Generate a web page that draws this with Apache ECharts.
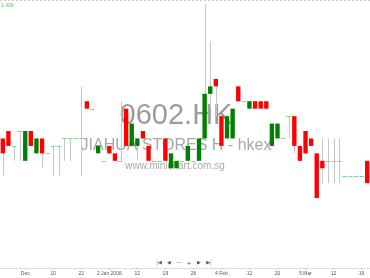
<!DOCTYPE html>
<html>
<head>
<meta charset="utf-8">
<script src="https://cdn.jsdelivr.net/npm/echarts@6/dist/echarts.min.js"></script>
<style>html,body{margin:0;padding:0;background:#fff;}#c{width:370px;height:278px;}</style>
</head>
<body>
<div id="c"></div>
<script>
// tick labels shown on the category axis (one label every 5 sessions)
const tickIndex = [4, 9, 14, 19, 24, 29, 34, 39, 44, 49, 54, 59, 64];
const tickText  = ['Dec', '10', '22', '2 Jan 2006', '12', '19', '26', '4 Feb', '12', '20', '5 Mar', '12', '19'];

// daily prices (HKD), red = close above open, green = close below open, dash = unchanged
const opens  = [0.51,0.52,0.52,0.54,0.54,0.52,0.53,0.51,0.51,0.52,0.52,0.53,0.53,0.53,0.53,0.57,0.57,0.52,0.50,0.51,0.50,0.50,0.52,0.55,0.53,0.53,0.50,0.50,0.50,0.50,0.51,0.50,0.50,0.52,0.50,0.53,0.59,0.60,0.60,0.52,0.56,0.57,0.58,0.58,0.58,0.57,0.57,0.57,0.55,0.55,0.53,0.56,0.52,0.50,0.51,0.52,0.45,0.49,0.50,0.50,0.50,0.48,0.48,0.48,0.48,0.47];
const closes = [0.53,0.54,0.52,0.54,0.50,0.54,0.51,0.53,0.51,0.52,0.52,0.53,0.53,0.53,0.53,0.58,0.57,0.51,0.50,0.52,0.51,0.50,0.57,0.52,0.52,0.54,0.52,0.50,0.50,0.53,0.49,0.49,0.50,0.50,0.50,0.50,0.53,0.59,0.61,0.56,0.53,0.53,0.60,0.58,0.57,0.58,0.58,0.58,0.52,0.53,0.53,0.56,0.56,0.52,0.54,0.53,0.51,0.50,0.50,0.50,0.50,0.48,0.48,0.48,0.48,0.50];
const lows   = [0.48,0.52,0.50,0.50,0.50,0.52,0.51,0.49,0.51,0.48,0.48,0.50,0.50,0.53,0.48,0.57,0.57,0.51,0.50,0.51,0.50,0.50,0.52,0.52,0.50,0.53,0.50,0.50,0.50,0.50,0.49,0.49,0.50,0.50,0.50,0.50,0.53,0.57,0.56,0.52,0.53,0.53,0.58,0.58,0.57,0.57,0.57,0.57,0.52,0.53,0.53,0.53,0.51,0.50,0.51,0.52,0.45,0.47,0.47,0.47,0.47,0.48,0.48,0.48,0.48,0.47];
const highs  = [0.53,0.54,0.52,0.54,0.54,0.54,0.53,0.53,0.51,0.52,0.52,0.53,0.53,0.53,0.60,0.58,0.57,0.52,0.50,0.52,0.51,0.58,0.57,0.55,0.53,0.54,0.52,0.50,0.50,0.53,0.51,0.50,0.50,0.52,0.50,0.53,0.71,0.66,0.61,0.56,0.56,0.57,0.60,0.58,0.58,0.58,0.58,0.58,0.55,0.55,0.53,0.56,0.56,0.52,0.54,0.53,0.51,0.53,0.53,0.53,0.53,0.48,0.48,0.48,0.48,0.50];

const categories = opens.map((_, i) => {
  const k = tickIndex.indexOf(i);
  return k >= 0 ? tickText[k] : '';
});
const isTick = (i) => tickIndex.indexOf(i) >= 0;

const candleData = opens.map((o, i) => [i, o, closes[i], lows[i], highs[i]]);

function renderItem(params, api) {
  const i = api.value(0), o = api.value(1), c = api.value(2), l = api.value(3), h = api.value(4);
  const pO = api.coord([i, o]), pC = api.coord([i, c]), pL = api.coord([i, l]), pH = api.coord([i, h]);
  const w = api.size([1, 0])[0] * 0.78;
  const x = pO[0];
  const xl = Math.round(x) + 0.5;
  const children = [];
  if (h !== l) {
    children.push({type: 'line', shape: {x1: xl, y1: pH[1], x2: xl, y2: pL[1]},
      style: {stroke: '#c6c6c6', lineWidth: 1}});
  }
  if (o === c) {
    const yy = Math.round(pO[1]) + 0.5;
    children.push({type: 'line', shape: {x1: x - w / 2, y1: yy, x2: x + w / 2, y2: yy},
      style: {stroke: '#8fcf8f', lineWidth: 1}});
  } else {
    children.push({type: 'rect', shape: {x: x - w / 2, y: Math.min(pO[1], pC[1]), width: w, height: Math.abs(pO[1] - pC[1])},
      style: {fill: c > o ? '#ff0000' : '#008000'}});
  }
  return {type: 'group', children};
}

const chart = echarts.init(document.getElementById('c'), null, {renderer: 'canvas'});
chart.setOption({
  animation: false,
  backgroundColor: '#ffffff',
  grid: {left: -1.23, right: -2.37, top: 0, bottom: 10},
  xAxis: {
    type: 'category',
    data: categories,
    boundaryGap: true,
    axisLine: {show: true, lineStyle: {color: '#dddddd', width: 1}},
    axisTick: {show: true, length: 2, alignWithLabel: true, interval: (i) => isTick(i), lineStyle: {color: '#cccccc'}},
    axisLabel: {show: true, interval: (i) => isTick(i), fontSize: 5, color: '#555555', margin: 3, fontFamily: 'Liberation Sans'},
    splitLine: {show: false}
  },
  yAxis: {
    type: 'value', min: 0.356, max: 0.716, show: false, splitLine: {show: false}
  },
  graphic: [
    {type: 'line', shape: {x1: 0, y1: 0.5, x2: 370, y2: 0.5}, style: {stroke: '#cccccc', lineWidth: 1, lineDash: [2, 2]}, z: 0},
    {type: 'text', left: 1, top: 3, style: {text: '1.408', fontSize: 5, fill: '#6cc06c', fontFamily: 'Liberation Sans'}, z: 0},
    {type: 'text', x: 176, y: 116, style: {text: '0602.HK', fontSize: 29, fill: '#9c9c9c', align: 'center', verticalAlign: 'middle', fontFamily: 'Liberation Sans'}, z: 0},
    {type: 'text', x: 176, y: 146, style: {text: 'JIAHUA STORES H - hkex', fontSize: 16, fill: '#a8a8a8', align: 'center', verticalAlign: 'middle', fontFamily: 'Liberation Sans'}, z: 0},
    {type: 'text', x: 175, y: 166, style: {text: 'www.minichart.com.sg', fontSize: 10, fill: '#a8a8a8', align: 'center', verticalAlign: 'middle', fontFamily: 'Liberation Sans'}, z: 0},
    {type: 'text', x: 159, y: 263, style: {text: '|◀', fontSize: 5, fill: '#555', align: 'center', verticalAlign: 'middle', fontFamily: 'DejaVu Sans'}, z: 0},
    {type: 'text', x: 169, y: 263, style: {text: '◀', fontSize: 5, fill: '#555', align: 'center', verticalAlign: 'middle', fontFamily: 'DejaVu Sans'}, z: 0},
    {type: 'text', x: 179, y: 263, style: {text: '—', fontSize: 5, fill: '#555', align: 'center', verticalAlign: 'middle', fontFamily: 'DejaVu Sans'}, z: 0},
    {type: 'text', x: 189, y: 263, style: {text: '+', fontSize: 6, fill: '#555', align: 'center', verticalAlign: 'middle', fontFamily: 'DejaVu Sans'}, z: 0},
    {type: 'text', x: 199, y: 263, style: {text: '▶', fontSize: 5, fill: '#555', align: 'center', verticalAlign: 'middle', fontFamily: 'DejaVu Sans'}, z: 0},
    {type: 'text', x: 209, y: 263, style: {text: '▶|', fontSize: 5, fill: '#555', align: 'center', verticalAlign: 'middle', fontFamily: 'DejaVu Sans'}, z: 0}
  ],
  series: [{
    type: 'custom',
    renderItem: renderItem,
    data: candleData,
    encode: {x: 0, y: [1, 2, 3, 4]},
    clip: false,
    z: 5
  }]
});
</script>
</body>
</html>
